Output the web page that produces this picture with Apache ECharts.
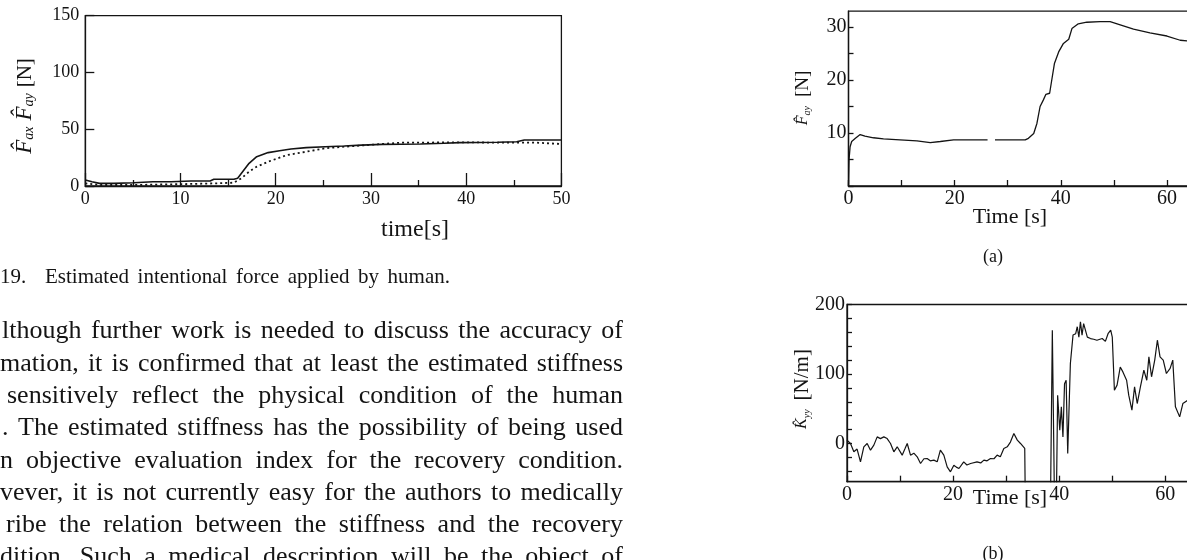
<!DOCTYPE html>
<html><head><meta charset="utf-8">
<script src="https://cdn.jsdelivr.net/npm/echarts@6/dist/echarts.min.js"></script>
<style>html,body{margin:0;padding:0;background:#fff;}#c{width:1187px;height:560px;}</style>
</head><body><div id="c"></div>
<script>
// ---------- Fig. 19 (left): estimated intentional force ----------
const fig19XTicks = [0, 10, 20, 30, 40, 50];
const fig19YTicks = [0, 50, 100, 150];
const fig19Solid = [[0,5.3],[0.7,3.8],[1.5,2.3],[3,2.3],[5.1,2.9],[7.1,3.8],[9,3.8],[11.1,4.4],[13.1,4.4],[13.5,5.9],[15.6,5.9],[16,6.8],[16.4,11.2],[17.2,20],[18,25.8],[19.2,29.4],[20.4,31.1],[21.6,32.6],[23.2,33.8],[25.2,34.6],[27.2,35.2],[29,36],[31.2,36.7],[35.2,37],[37.7,37.6],[39.3,38.2],[43.3,38.5],[45.3,39],[46.1,40.5],[50,40.5]];
const fig19Dotted = [[0,2.3],[1.5,0.9],[5.1,0.9],[9.1,1.5],[11.1,1.8],[13.5,2.3],[15.6,2.9],[16.4,6.8],[17.2,12.6],[18,17],[19.2,21.4],[21.2,27.3],[23.2,30.2],[25.2,33.2],[27.2,34.6],[31.2,37],[33.2,38.2],[35.2,38.2],[39.3,38.5],[43.3,38.2],[47.3,38.2],[50,37]];

// ---------- (a) force F_ay ----------
const timeTicks = [0,10,20,30,40,50,60,70];
const timeLabels = [0,20,40,60];
const forceTicks = [0,5,10,15,20,25,30];
const forceLabels = [10,20,30];
const forceA = [[0,0],[0.1,4.9],[0.3,7.4],[0.6,8.4],[1.3,9],[2.2,9.7],[3.1,9.4],[4.7,9.1],[6.6,8.9],[9.7,8.7],[12.9,8.5],[15.4,8.2],[17.3,8.4],[19.8,8.7],[22.3,8.7],[26.2,8.7],[26.9,'-'],[27.6,8.7],[31.7,8.7],[33.3,8.7],[33.9,9],[34.9,9.9],[35.5,11.8],[36.1,15],[36.7,16.2],[37.2,17.3],[37.9,17.5],[38.3,20],[38.8,23.1],[39.6,25.3],[40.5,26.9],[41.5,27.7],[42.1,29.7],[43.3,30.6],[44.9,30.9],[47.4,31],[49.3,31],[51.2,30.4],[53.7,29.6],[56.8,28.9],[60,28.3],[62.5,27.5],[64.5,27.3]];

// ---------- (b) stiffness K_yy ----------
const stiffTicks = [-40,-20,0,20,40,60,80,100,120,140,160,180,200];
const stiffLabels = [0,100,200];
const stiffB = [[0,4.7],[0.66,0],[1.29,-12],[1.9,-8],[2.54,-26.4],[3.17,-4.8],[3.8,0],[4.43,-9.6],[5.06,-2.4],[5.69,9.5],[6.3,7],[6.94,9.5],[7.57,7.1],[8.2,0],[8.83,-12],[9.46,-4.8],[10.4,-16.8],[10.9,-8],[11.35,0],[11.97,-16.8],[12.6,-14],[13.23,-19.2],[13.86,-28.8],[14.5,-22],[15.1,-21.6],[15.7,-25],[16.37,-24],[17,-26.4],[17.6,-9.6],[18.25,-16.8],[18.88,-33.6],[19.5,-40.8],[20.14,-31.2],[20.6,-34],[21.1,-36],[22,-26.4],[22.6,-31],[23.3,-28.8],[24.5,-26.4],[25.2,-28],[25.8,-24],[26.4,-25],[27.05,-21.6],[27.7,-22],[28.3,-16.8],[28.9,-19.2],[29.56,-7.2],[30.2,-4.8],[30.8,2],[31.45,14.3],[32.1,4.8],[32.7,0],[33.5,-7.2],[33.6,-80],[36,'-'],[38.36,-80],[38.7,163],[39.1,-80],[39.5,-60],[39.7,69.5],[40.1,19],[40.4,52.7],[40.7,9.5],[41,86],[41.3,91],[41.6,-14.4],[42.1,115],[42.6,156],[43.1,158],[43.4,168],[43.7,153],[44,175],[44.3,156],[44.6,172.6],[45.3,153],[45.9,151],[46.5,150],[47.1,148.6],[48.1,151],[48.7,147],[49.2,158],[49.7,163],[50,153],[50.4,76.7],[50.9,84],[51.5,110],[52,103],[52.7,91],[53.1,69.5],[53.7,48],[54.2,81.5],[54.7,57.5],[55.3,81.5],[55.95,105.5],[56.5,91],[56.9,124.7],[57.4,96],[58,120],[58.5,148.6],[59,124.7],[59.6,120],[60.2,100.7],[60.9,108],[61.4,120],[61.9,52.7],[62.7,38.3],[63.3,57.5],[64.2,62],[65,60]];

// ---------- page text ----------
const captionNum = "19.";
const captionText = "Estimated intentional force applied by human.";
const paragraphLines = [
  "lthough further work is needed to discuss the accuracy of",
  "mation, it is confirmed that at least the estimated stiffness",
  "sensitively reflect the physical condition of the human",
  ". The estimated stiffness has the possibility of being used",
  "n objective evaluation index for the recovery condition.",
  "vever, it is not currently easy for the authors to medically",
  "ribe the relation between the stiffness and the recovery",
  "dition. Such a medical description will be the object of"
];
const paragraphStarts = [2, 0, 7, 2, 0, 0, 6, 0];

const serif = "'Liberation Serif','Times New Roman',serif";
const ink = '#141414';

const mctx = document.createElement('canvas').getContext('2d');
function justify(line, x0, right, y, size) {
  mctx.font = size + 'px ' + serif;
  const words = line.split(' ');
  const widths = words.map(w => mctx.measureText(w).width);
  const sum = widths.reduce((a, b) => a + b, 0);
  const gap = words.length > 1 ? (right - x0 - sum) / (words.length - 1) : 0;
  let x = x0;
  return words.map((w, i) => {
    const el = {type: 'text', x: x, y: y, style: {text: w, fontSize: size, fontFamily: serif, fill: ink, align: 'left', verticalAlign: 'middle'}};
    x += widths[i] + gap;
    return el;
  });
}
function txt(x, y, text, size, extra) {
  return Object.assign({type: 'text', x: x, y: y, style: {text: text, fontSize: size, fontFamily: serif, fill: ink, align: 'center', verticalAlign: 'middle'}}, extra || {});
}
function richName(x, y, text, rich) {
  return {type: 'text', x: x, y: y, rotation: Math.PI / 2,
    style: {text: text, rich: rich, fill: ink, fontFamily: serif, align: 'center', verticalAlign: 'middle'}};
}

const graphics = [];
paragraphLines.forEach((l, i) => graphics.push(...justify(l, paragraphStarts[i], 623, 331.5 + 32.3 * i, 26)));
graphics.push({type: 'text', x: 0, y: 277, style: {text: captionNum, fontSize: 21, fontFamily: serif, fill: ink, verticalAlign: 'middle'}});
graphics.push(...justify(captionText, 45, 450, 277, 21));
graphics.push(txt(415, 230, 'time[s]', 24));
graphics.push(txt(1010, 217, 'Time [s]', 22));
graphics.push(txt(993, 257, '(a)', 18));
graphics.push(txt(1010, 498, 'Time [s]', 22));
graphics.push(txt(993, 554, '(b)', 18));
graphics.push(richName(25, 106, '{f|F\u0302}{s|ax}  {f|F\u0302}{s|ay}  {n|[N]}', {
  f: {fontSize: 23, fontStyle: 'italic', fontFamily: serif, fill: ink},
  s: {fontSize: 14, fontStyle: 'italic', fontFamily: serif, fill: ink, verticalAlign: 'bottom'},
  n: {fontSize: 21, fontFamily: serif, fill: ink}
}));
graphics.push(richName(803, 98, '{f|F\u0302}{s|ay}   {n|[N]}', {
  f: {fontSize: 16, fontStyle: 'italic', fontFamily: serif, fill: ink},
  s: {fontSize: 10, fontStyle: 'italic', fontFamily: serif, fill: ink, verticalAlign: 'bottom'},
  n: {fontSize: 19, fontFamily: serif, fill: ink}
}));
graphics.push(richName(802, 389, '{f|K\u0302}{s|yy}   {n|[N/m]}', {
  f: {fontSize: 16, fontStyle: 'italic', fontFamily: serif, fill: ink},
  s: {fontSize: 10, fontStyle: 'italic', fontFamily: serif, fill: ink, verticalAlign: 'bottom'},
  n: {fontSize: 21, fontFamily: serif, fill: ink}
}));

const lineSt = {color: ink, width: 1.3};
const lab = (size, margin) => ({color: ink, fontFamily: serif, fontSize: size, margin: margin});

const option = {
  animation: false,
  backgroundColor: '#fff',
  grid: [
    {left: 85.3, top: 15.7, width: 476.1, height: 170.3, show: true, borderColor: ink, borderWidth: 1.3, outerBoundsMode: 'none', containLabel: false},
    {left: 848.5, top: 11.1, width: 371.5, height: 174.9, show: true, borderColor: ink, borderWidth: 1.3, outerBoundsMode: 'none', containLabel: false},
    {left: 847, top: 304.5, width: 371.4, height: 177.2, show: true, borderColor: ink, borderWidth: 1.3, outerBoundsMode: 'none', containLabel: false}
  ],
  xAxis: [
    {type: 'value', gridIndex: 0, min: 0, max: 50, interval: 10,
      axisLine: {onZero: false, lineStyle: lineSt}, splitLine: {show: false},
      axisTick: {inside: true, length: 13, lineStyle: lineSt},
      minorTick: {show: true, splitNumber: 2, length: 6, lineStyle: lineSt},
      axisLabel: Object.assign(lab(18, 4), {customValues: fig19XTicks})},
    {type: 'value', gridIndex: 1, min: 0, max: 70,
      axisLine: {onZero: false, lineStyle: lineSt}, splitLine: {show: false},
      axisTick: {inside: true, length: 6, lineStyle: lineSt, customValues: timeTicks},
      axisLabel: Object.assign(lab(20, 3), {customValues: timeLabels})},
    {type: 'value', gridIndex: 2, min: 0, max: 70,
      axisLine: {onZero: false, lineStyle: lineSt}, splitLine: {show: false},
      axisTick: {inside: true, length: 6, lineStyle: lineSt, customValues: timeTicks},
      axisLabel: Object.assign(lab(20, 3), {customValues: timeLabels})}
  ],
  yAxis: [
    {type: 'value', gridIndex: 0, min: 0, max: 150, interval: 50,
      axisLine: {onZero: false, lineStyle: lineSt}, splitLine: {show: false},
      axisTick: {inside: true, length: 9, lineStyle: lineSt},
      axisLabel: Object.assign(lab(18, 6), {customValues: fig19YTicks})},
    {type: 'value', gridIndex: 1, min: 0, max: 33,
      axisLine: {onZero: false, lineStyle: lineSt}, splitLine: {show: false},
      axisTick: {inside: true, length: 5, lineStyle: lineSt, customValues: forceTicks},
      axisLabel: Object.assign(lab(20, 2), {customValues: forceLabels})},
    {type: 'value', gridIndex: 2, min: -55, max: 200,
      axisLine: {onZero: false, lineStyle: lineSt}, splitLine: {show: false},
      axisTick: {inside: true, length: 5, lineStyle: lineSt, customValues: stiffTicks},
      axisLabel: Object.assign(lab(20, 2), {customValues: stiffLabels})}
  ],
  series: [
    {type: 'line', xAxisIndex: 0, yAxisIndex: 0, data: fig19Solid, showSymbol: false, symbol: 'none',
      lineStyle: {color: ink, width: 1.6}},
    {type: 'line', xAxisIndex: 0, yAxisIndex: 0, data: fig19Dotted, showSymbol: false, symbol: 'none',
      lineStyle: {color: ink, width: 1.8, type: [2, 3]}},
    {type: 'line', xAxisIndex: 1, yAxisIndex: 1, data: forceA, showSymbol: false, symbol: 'none', connectNulls: false,
      lineStyle: {color: ink, width: 1.3}},
    {type: 'line', xAxisIndex: 2, yAxisIndex: 2, data: stiffB, showSymbol: false, symbol: 'none', connectNulls: false, clip: true,
      lineStyle: {color: ink, width: 1.2}}
  ],
  graphic: graphics
};
const chart = echarts.init(document.getElementById('c'), null, {renderer: 'canvas'});
chart.setOption(option);
</script></body></html>
